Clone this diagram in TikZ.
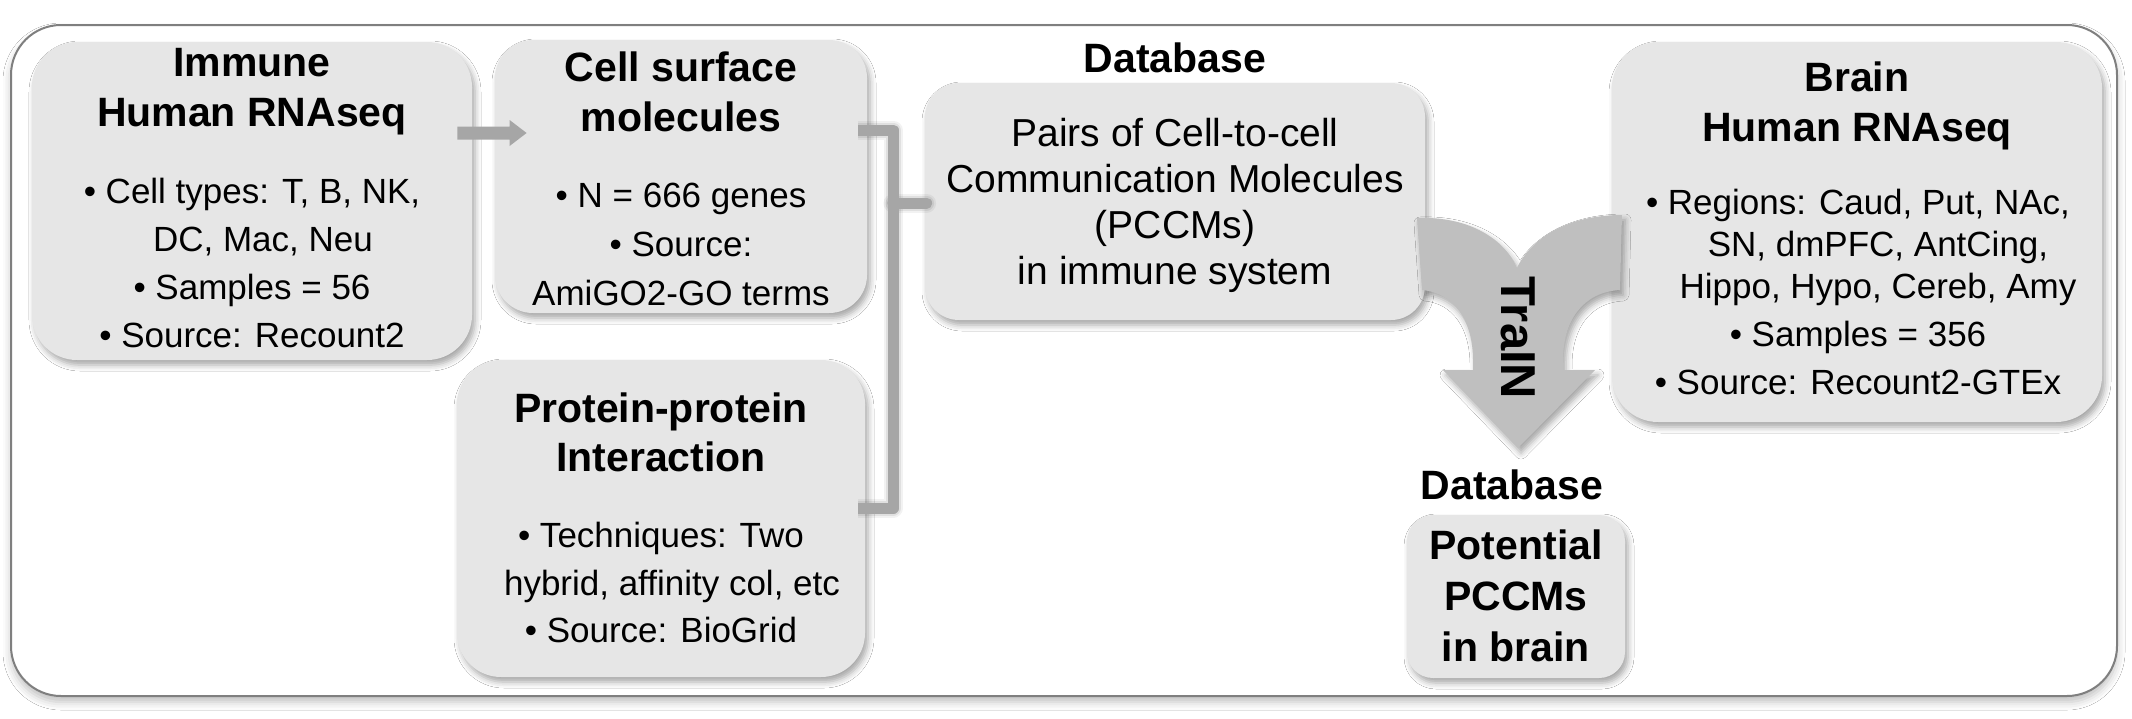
\documentclass[tikz,border=0pt]{standalone}
\usepackage{fontspec}
\setmainfont{Liberation Sans}
\usetikzlibrary{calc,arrows.meta,shadows.blur}
\definecolor{boxgray}{HTML}{E6E6E6}
\definecolor{arrgray}{HTML}{A6A6A6}
\definecolor{trgray}{HTML}{BFBFBF}
\definecolor{framegray}{HTML}{7F7F7F}
\begin{document}
\begin{tikzpicture}[x=0.5pt,y=-0.5pt,
  softshadow/.style={blur shadow={shadow xshift=1.5pt,shadow yshift=-2.5pt,shadow opacity=35,shadow blur radius=3pt}},
  panel/.style={fill=boxgray,draw=none,inner sep=0pt,softshadow},
  frm/.style={draw=framegray,line width=1pt,fill=white,inner sep=0pt,rounded corners=25pt,
    blur shadow={shadow xshift=0pt,shadow yshift=-3pt,shadow opacity=25,shadow blur radius=4pt}},
  ttl/.style={font=\fontsize{20.5pt}{25pt}\selectfont\bfseries,align=center,inner sep=0pt},
  body/.style={font=\fontsize{17.5pt}{24pt}\selectfont,align=center,inner sep=0pt},
  bracket/.style={draw=arrgray,line width=5.5pt,line join=round},
  brshadow/.style={draw=black,line join=round,shift={(3,5)}},
]
\useasboundingbox (0,0) rectangle (2132,718);
\fill[white] (0,0) rectangle (2132,718);

% outer frame
\node[frm,minimum width=1053pt,minimum height=335.5pt] (frame) at (1064,360.5) {};

% boxes
\node[panel,rounded corners=22.5pt,minimum width=220pt,minimum height=159pt] (immune) at (252,201) {};
\node[panel,rounded corners=19pt,minimum width=186pt,minimum height=136.5pt] (cell) at (681,176.5) {};
\node[panel,rounded corners=22pt,minimum width=204pt,minimum height=158.5pt] (ppi) at (661,518.5) {};
\node[panel,rounded corners=17pt,minimum width=250pt,minimum height=118.5pt] (pccm) at (1175,201.5) {};
\node[panel,rounded corners=23pt,minimum width=245pt,minimum height=190pt] (brain) at (1857,232) {};
\node[panel,rounded corners=13pt,minimum width=109pt,minimum height=81.5pt] (pot) at (1516,596.5) {};

% texts
\node[ttl] (immuneT) at (252,92) {Immune\\Human RNAseq};
\node[body] (immuneB) at (252,263) {• Cell types: T, B, NK,\\\hspace*{11pt}DC, Mac, Neu\\• Samples = 56\\• Source: Recount2};

\node[ttl] (cellT) at (681,92) {Cell surface\\molecules};
\node[body,font=\fontsize{17.5pt}{24.5pt}\selectfont] (cellB) at (681,244) {• N = 666 genes\\• Source:\\AmiGO2-GO terms};

\node[ttl,font=\fontsize{20.5pt}{24.5pt}\selectfont\bfseries] (ppiT) at (661,432.5) {Protein-protein\\Interaction};
\node[body,font=\fontsize{17.5pt}{23.75pt}\selectfont] (ppiB) at (661,582.5) {• Techniques: Two\\\hspace*{11pt}hybrid, affinity col, etc\\• Source: BioGrid};

\node[ttl] (db1) at (1175,58) {Database};
\node[body,font=\fontsize{19.5pt}{23pt}\selectfont] (pccmT) at (1175,205) {Pairs of Cell-to-cell\\Communication Molecules\\(PCCMs)\\in immune system};

\node[ttl] (brainT) at (1857,106) {Brain\\Human RNAseq};
\node[body] (brainB) at (1858,292) {• Regions: Caud, Put, NAc,\\[-3pt]\hspace*{20pt}SN, dmPFC, AntCing,\\[-3pt]\hspace*{20pt}Hippo, Hypo, Cereb, Amy\\• Samples = 356\\• Source: Recount2-GTEx};

\node[ttl] (db2) at (1512,485) {Database};
\node[ttl,font=\fontsize{20.5pt}{25.5pt}\selectfont\bfseries] (potT) at (1516,596) {Potential\\PCCMs\\in brain};

% small arrow immune -> cell surface
\coordinate (ay) at (0,133);
\fill[arrgray] ($(immune.east |- ay)+(-15,-6.5)$) -- ($(cell.west |- ay)+(15,-6.5)$) -- ($(cell.west |- ay)+(15,-13)$)
  -- ($(cell.west |- ay)+(32,0)$) -- ($(cell.west |- ay)+(15,13)$) -- ($(cell.west |- ay)+(15,6.5)$)
  -- ($(immune.east |- ay)+(-15,6.5)$) -- cycle;

% bracket
\coordinate (bt) at (0,130);
\coordinate (bb) at (0,508);
\coordinate (bm) at (0,203);
\coordinate (bx) at (893,0);
\coordinate (b1) at ($(cell.east |- bt)+(-9,0)$);
\coordinate (b2) at ($(ppi.east |- bb)+(-7,0)$);
\coordinate (b3) at ($(pccm.west |- bm)+(2,0)$);
\foreach \w/\o in {9.5pt/0.05,7.5pt/0.07,5.5pt/0.09}{
  \draw[brshadow,line width=\w,opacity=\o] (b1) -- (bx |- bt) -- (bx |- bb) -- (b2);
  \draw[brshadow,line width=\w,opacity=\o,line cap=round] (bx |- bm) -- (b3);
}
\draw[bracket] (b1) -- (bx |- bt) -- (bx |- bb) -- (b2);
\draw[bracket,line cap=round] (bx |- bm) -- (b3);

% TraIN arrow
\fill[trgray,softshadow] (1417,218) .. controls (1470,216) and (1505,240) .. (1517,268)
  .. controls (1530,240) and (1565,215) .. (1622,215)
  -- (1620,290)
  .. controls (1582,292) and (1563,322) .. (1563,360)
  -- (1563,370) -- (1595,370) -- (1518,448) -- (1443,370) -- (1473,370) -- (1473,360)
  .. controls (1473,322) and (1455,293) .. (1422,290) -- cycle;
\node[font=\fontsize{24.5pt}{24.5pt}\selectfont\bfseries,rotate=-90,inner sep=0pt] (train) at (1518,338) {TraIN};
\end{tikzpicture}
\end{document}
